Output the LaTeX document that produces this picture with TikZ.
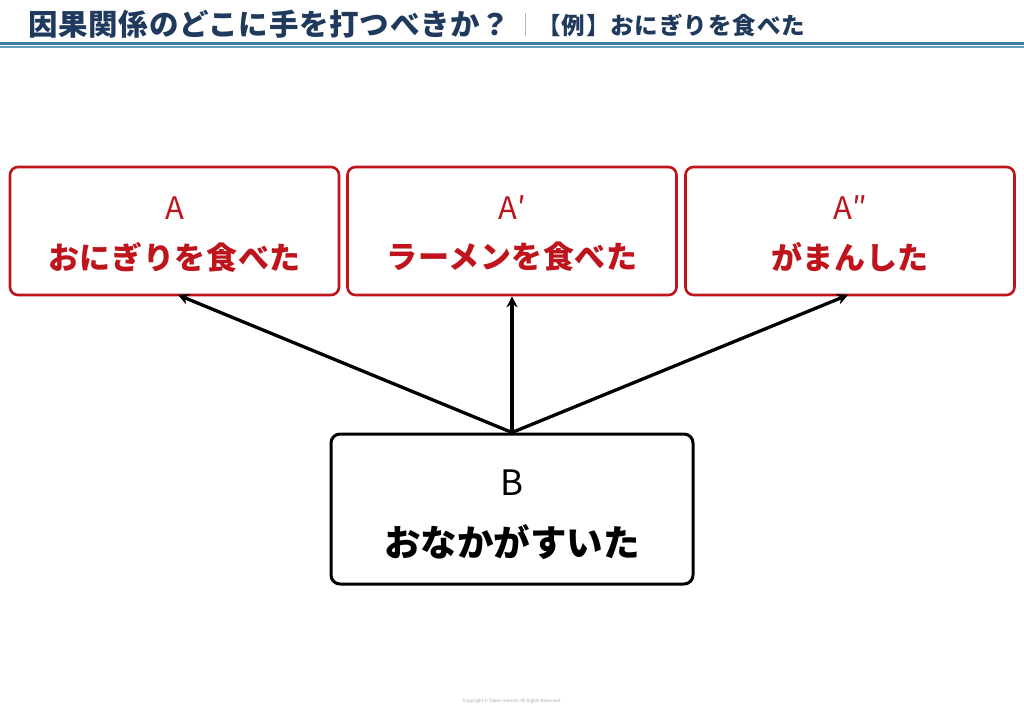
\documentclass[tikz,border=0pt]{standalone}
\usepackage{fontspec}
\setmainfont{Noto Sans CJK JP}
\usetikzlibrary{arrows.meta}
\definecolor{navy}{HTML}{1F3A5C}
\definecolor{lineblue}{HTML}{3C7DA6}
\definecolor{lineblue2}{HTML}{5E9CC2}
\definecolor{boxred}{HTML}{C0141C}
\definecolor{sepgray}{HTML}{B8B8B8}
\begin{document}
\begin{tikzpicture}[x=1pt,y=-1pt,
  redbox/.style={draw=boxred,line width=2.6pt,rounded corners=8pt,minimum width=329pt,minimum height=128pt,inner sep=0pt},
  blackbox/.style={draw=black,line width=3pt,rounded corners=9pt,minimum width=362pt,minimum height=150pt,inner sep=0pt},
  redletter/.style={text=boxred,font=\fontsize{31}{31}\selectfont,inner sep=0pt},
  redtext/.style={text=boxred,font=\bfseries\fontsize{31}{31}\selectfont\addfontfeature{LetterSpace=2},inner sep=0pt},
  arr/.style={line width=3.3pt,-{Stealth[length=11pt,width=11pt]}}]
\useasboundingbox[fill=white] (0,0) rectangle (1024,709);
% header
\node[anchor=west,text=navy,font=\bfseries\fontsize{29.5}{29.5}\selectfont\addfontfeature{LetterSpace=2.5},inner sep=0pt] (title) at (28,24) {因果関係のどこに手を打つべきか？};
\draw[sepgray,line width=1pt] (525,13) -- (525,36);
\node[anchor=west,text=navy,font=\bfseries\fontsize{23.5}{23.5}\selectfont\addfontfeature{LetterSpace=4},inner sep=0pt] (sub) at (537,25) {【例】おにぎりを食べた};
\draw[lineblue,line width=2.6pt] (0,43.3) -- (1024,43.3);
\draw[lineblue2,line width=1.4pt] (0,47.2) -- (1024,47.2);
% boxes
\node[redbox] (a1) at (174.5,231) {};
\node[redbox] (a2) at (512,231) {};
\node[redbox] (a3) at (850,231) {};
\node[blackbox] (b) at (512,509) {};
% texts
\node[redletter] (a1l) at (174.5,208) {A};
\node[redtext] (a1t) at (174.5,257) {おにぎりを食べた};
\node[redletter] (a2l) at (512,208) {A′};
\node[redtext] (a2t) at (512,257) {ラーメンを食べた};
\node[redletter] (a3l) at (850,208) {A″};
\node[redtext] (a3t) at (850,257) {がまんした};
\node[font=\fontsize{35}{35}\selectfont,inner sep=0pt] (bl) at (512,483) {B};
\node[font=\bfseries\fontsize{36.5}{36.5}\selectfont,inner sep=0pt] (bt) at (512,542) {おなかがすいた};
% arrows
\coordinate (a1e) at (178,295);
\coordinate (a3e) at (848,295);
\draw[arr] (b.north) -- (a1e);
\draw[arr] (b.north) -- (a2.south);
\draw[arr] (b.north) -- (a3e);
% footer
\node[text=gray!70,font=\fontsize{4.5}{4.5}\selectfont,inner sep=0pt] (copy) at (512,701) {Copyright © Takeo Uemoto All Rights Reserved.};
\end{tikzpicture}
\end{document}
